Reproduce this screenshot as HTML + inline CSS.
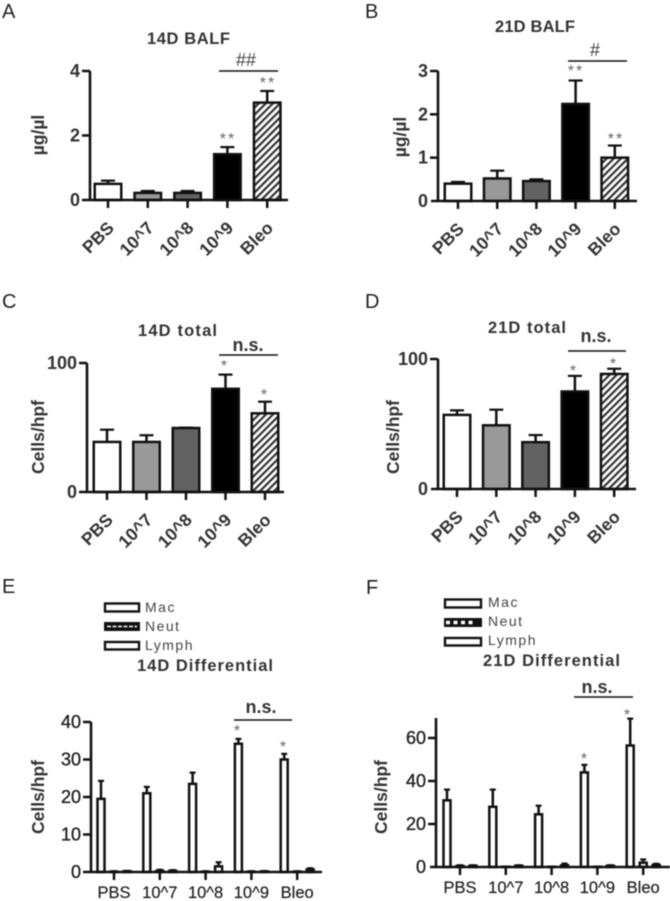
<!DOCTYPE html>
<html lang="en">
<head>
<meta charset="utf-8">
<title>BALF and cell count bar charts</title>
<style>
html,body{margin:0;padding:0;background:#fff;width:670px;height:901px;overflow:hidden}
svg{display:block;filter:blur(0.5px)}
text{font-family:"Liberation Sans",sans-serif;fill:#333}
.letter{font-size:20px;fill:#222}
.title{font-size:16.5px;font-weight:bold;fill:#333}
.ytitle{font-size:17.5px;font-weight:bold;fill:#333}
.sig{font-size:18px;font-weight:bold;fill:#333;text-anchor:middle}
.hash{font-size:18px;fill:#444;text-anchor:middle}
.star{font-size:16px;fill:#666;text-anchor:middle;letter-spacing:2px}
.legend{font-size:14px;fill:#444;letter-spacing:1.5px}
.tick{font-size:18px;font-weight:bold;fill:#333;text-anchor:end}
.tick-light{font-size:18px;fill:#222;stroke:#222;stroke-width:.35;text-anchor:end}
.xrot{font-size:17.5px;font-weight:bold;fill:#333;text-anchor:end}
.xflat{font-size:16.5px;fill:#222;stroke:#222;stroke-width:.2;text-anchor:middle}
.line{stroke:#111;stroke-width:1.6}
</style>
</head>
<body>
<svg id="figure" xmlns="http://www.w3.org/2000/svg" width="670" height="901" viewBox="0 0 670 901">
<defs>
<pattern id="hatch" patternUnits="userSpaceOnUse" width="5" height="5" patternTransform="rotate(45)">
<rect width="5" height="5" fill="#fff"/>
<rect width="2.2" height="5" fill="#333"/>
</pattern>
</defs>
<rect width="670" height="901" fill="#fff"/>

<text class="letter" x="2" y="18">A</text>
<text class="letter" x="365" y="18">B</text>
<text class="letter" x="2" y="308">C</text>
<text class="letter" x="365" y="308">D</text>
<text class="letter" x="2" y="593">E</text>
<text class="letter" x="366" y="594">F</text>

<text class="title" x="147" y="44" textLength="83" lengthAdjust="spacing">14D BALF</text>
<text class="title" x="495" y="32" textLength="80" lengthAdjust="spacing">21D BALF</text>
<text class="title" x="138" y="336" textLength="79" lengthAdjust="spacing">14D total</text>
<text class="title" x="488" y="333" textLength="78" lengthAdjust="spacing">21D total</text>
<text class="title" x="137" y="671" textLength="136" lengthAdjust="spacing">14D Differential</text>
<text class="title" x="483" y="666" textLength="137" lengthAdjust="spacing">21D Differential</text>

<text class="ytitle" transform="translate(44,135) rotate(-90)" text-anchor="middle">µg/µl</text>
<text class="ytitle" transform="translate(406,137) rotate(-90)" text-anchor="middle">µg/µl</text>
<text class="ytitle" transform="translate(44,437) rotate(-90)" text-anchor="middle">Cells/hpf</text>
<text class="ytitle" transform="translate(399,437) rotate(-90)" text-anchor="middle">Cells/hpf</text>
<text class="ytitle" transform="translate(44,797) rotate(-90)" text-anchor="middle">Cells/hpf</text>
<text class="ytitle" transform="translate(387,797) rotate(-90)" text-anchor="middle">Cells/hpf</text>

<!-- significance annotations -->
<line class="line" x1="219" x2="278" y1="71" y2="71"/>
<text class="hash" x="246" y="66">##</text>
<text class="star" x="268" y="88">**</text>
<text class="star" x="228" y="144">**</text>

<line class="line" x1="568" x2="627" y1="61" y2="61"/>
<text class="hash" x="595" y="56">#</text>
<text class="star" x="576" y="76">**</text>
<text class="star" x="616" y="144">**</text>

<line class="line" x1="219" x2="278" y1="355" y2="355"/>
<text class="sig" x="248" y="351">n.s.</text>
<text class="star" x="225" y="371">*</text>
<text class="star" x="265" y="400">*</text>

<line class="line" x1="568" x2="626" y1="351" y2="351"/>
<text class="sig" x="596" y="342">n.s.</text>
<text class="star" x="574" y="376">*</text>
<text class="star" x="614" y="369">*</text>

<line class="line" x1="234" x2="292" y1="720" y2="720"/>
<text class="sig" x="261" y="713">n.s.</text>
<text class="star" x="238" y="736">*</text>
<text class="star" x="284" y="752">*</text>

<line class="line" x1="574" x2="633" y1="697" y2="697"/>
<text class="sig" x="597" y="693">n.s.</text>
<text class="star" x="585" y="764">*</text>
<text class="star" x="628" y="720">*</text>

<!-- legends -->
<g>
<rect x="105" y="603.5" width="34" height="8" fill="#fff" stroke="#111" stroke-width="2.4"/>
<rect x="104" y="622" width="36" height="9" fill="#111"/>
<line x1="107" x2="137" y1="626.5" y2="626.5" stroke="#fff" stroke-width="1.5" stroke-dasharray="4 1.5"/>
<rect x="105" y="642" width="34" height="7.5" fill="#fff" stroke="#111" stroke-width="2.4"/>
<text class="legend" x="145" y="612">Mac</text>
<text class="legend" x="145" y="631">Neut</text>
<text class="legend" x="145" y="650">Lymph</text>
</g>
<g>
<rect x="445" y="599.5" width="36" height="8" fill="#fff" stroke="#111" stroke-width="2.4"/>
<rect x="444" y="618" width="38" height="9" fill="#111"/>
<line x1="446" x2="476" y1="622.5" y2="622.5" stroke="#fff" stroke-width="3.5" stroke-dasharray="4 3.5"/>
<rect x="445" y="638" width="36" height="7.5" fill="#fff" stroke="#111" stroke-width="2.4"/>
<text class="legend" x="488" y="607">Mac</text>
<text class="legend" x="488" y="626">Neut</text>
<text class="legend" x="488" y="645">Lymph</text>
</g>
</svg>

<script>
const categories = ['PBS', '10^7', '10^8', '10^9', 'Bleo'];

const panelATicks = [0, 2, 4];
const panelAValues = [0.5, 0.22, 0.22, 1.42, 3.02];
const panelAErrors = [0.1, 0.06, 0.06, 0.22, 0.36];

const panelBTicks = [0, 1, 2, 3];
const panelBValues = [0.4, 0.52, 0.46, 2.24, 1.0];
const panelBErrors = [0.04, 0.18, 0.04, 0.54, 0.28];

const panelCTicks = [0, 100];
const panelCValues = [38.8, 38.8, 49.6, 80, 61];
const panelCErrors = [9.5, 5.2, 0.3, 11, 9];

const panelDTicks = [0, 100];
const panelDValues = [57, 49, 36, 75, 88.5];
const panelDErrors = [3.5, 12, 5.5, 12, 4];

const panelETicks = [0, 10, 20, 30, 40];
const panelEMac = [19.5, 21, 23.5, 34.2, 30];
const panelEMacErrors = [4.8, 1.7, 3, 1.3, 1.5];
const panelENeut = [0.1, 0.3, 0.1, 0.1, 0.1];
const panelENeutErrors = [0.1, 0.3, 0.1, 0.1, 0.1];
const panelELymph = [0.2, 0.3, 1.5, 0.15, 0.7];
const panelELymphErrors = [0.1, 0.2, 1.1, 0.1, 0.3];

const panelFTicks = [0, 20, 40, 60];
const panelFMac = [31, 28, 24.5, 44, 56.5];
const panelFMacErrors = [5, 8, 4, 3.5, 12.5];
const panelFNeut = [0.5, 0.1, 0.1, 0.1, 2];
const panelFNeutErrors = [0.3, 0.1, 0.1, 0.1, 1.5];
const panelFLymph = [0.6, 0.6, 0.8, 0.6, 1];
const panelFLymphErrors = [0.2, 0.2, 0.8, 0.2, 0.5];

const SVG_NS = 'http://www.w3.org/2000/svg';
const root = document.getElementById('figure');
const INK = '#111';
const singleFills = ['#ffffff', '#999999', '#626262', '#000000', 'url(#hatch)'];

function make(tag, parent, props) {
  const el = document.createElementNS(SVG_NS, tag);
  for (const k in props) el.setAttribute(k, props[k]);
  parent.appendChild(el);
  return el;
}

function drawAxes(g, p, ticks) {
  const yLine = make('line', g, {x1: p.axisX, x2: p.axisX, y1: p.yTop, y2: p.y0, stroke: INK, 'stroke-width': 2.6});
  
  
  const xLine = make('line', g, {x1: p.axisLeft, x2: p.axisRight, y1: p.y0, y2: p.y0, stroke: INK, 'stroke-width': 2.6});
  
  
  ticks.forEach(function (t) {
    const y = p.yScale(t);
    if (t !== 0) {
      const m = make('line', g, {x1: p.axisX - 8, x2: p.axisX, y1: y, y2: y, stroke: INK, 'stroke-width': 2.5});
      
      
    }
    const label = make('text', g, {class: p.flatLabels ? 'tick-light' : 'tick', x: p.axisX - 10, y: y + 6});
    
    
    label.textContent = String(t);
  });
  categories.forEach(function (c, i) {
    const x = p.tickX(i);
    const m = make('line', g, {x1: x, x2: x, y1: p.y0, y2: p.y0 + 8, stroke: INK, 'stroke-width': 2.5});
    
    
    let label;
    if (p.flatLabels) {
      label = make('text', g, {class: 'xflat', x: x, y: p.labelY});
    } else {
      label = make('text', g, {class: 'xrot', transform: 'translate(' + (x + 7) + ',' + (p.y0 + 29) + ') rotate(-45)'});
    }
    
    
    label.textContent = c;
  });
}

function drawBar(g, p, cx, width, value, error, fill) {
  const top = p.yScale(value);
  const errTop = p.yScale(value + error);
  const stem = make('line', g, {x1: cx, x2: cx, y1: top, y2: errTop, stroke: INK, 'stroke-width': 2.5});
  
  
  const cap = make('line', g, {x1: cx - p.capHalf, x2: cx + p.capHalf, y1: errTop, y2: errTop, stroke: INK, 'stroke-width': 2.2});
  
  
  const bar = make('rect', g, {x: cx - width / 2, y: top, width: width, height: Math.max(p.y0 - top, 0), fill: fill, stroke: INK, 'stroke-width': 2.5});
  
  
}

function linearY(p) {
  p.yScale = function (v) { return p.y0 - (v / p.yMax) * (p.y0 - p.yTop); };
}

function drawSinglePanel(name, p, ticks, values, errors) {
  const g = make('g', root, {});
  
  
  linearY(p);
  p.capHalf = 7;
  p.tickX = function (i) { return p.first + i * p.step; };
  values.forEach(function (v, i) {
    drawBar(g, p, p.tickX(i), 26.5, v, errors[i], singleFills[i]);
  });
  drawAxes(g, p, ticks);
}

function drawGroupedPanel(name, p, ticks, mac, macErr, neut, neutErr, lymph, lymphErr) {
  const g = make('g', root, {});
  
  
  linearY(p);
  p.capHalf = 3;
  p.flatLabels = true;
  p.tickX = function (i) { return p.first + i * p.step + p.inner; };
  categories.forEach(function (c, i) {
    const cx = p.first + i * p.step;
    drawBar(g, p, cx, 7, mac[i], macErr[i], '#ffffff');
    drawBar(g, p, cx + p.inner, 7, neut[i], neutErr[i], '#ffffff');
    drawBar(g, p, cx + p.inner * 2, 7, lymph[i], lymphErr[i], '#ffffff');
  });
  drawAxes(g, p, ticks);
}

drawSinglePanel('panel-a-chart', {axisX: 90, axisLeft: 82, axisRight: 288, y0: 200, yTop: 71, yMax: 4, first: 108, step: 39.8}, panelATicks, panelAValues, panelAErrors);
drawSinglePanel('panel-b-chart', {axisX: 438, axisLeft: 431, axisRight: 637, y0: 201, yTop: 71, yMax: 3, first: 458, step: 39.2}, panelBTicks, panelBValues, panelBErrors);
drawSinglePanel('panel-c-chart', {axisX: 87, axisLeft: 79, axisRight: 284, y0: 492, yTop: 363, yMax: 100, first: 107, step: 39.5}, panelCTicks, panelCValues, panelCErrors);
drawSinglePanel('panel-d-chart', {axisX: 438, axisLeft: 431, axisRight: 636, y0: 489, yTop: 359, yMax: 100, first: 457, step: 39.3}, panelDTicks, panelDValues, panelDErrors);
drawGroupedPanel('panel-e-chart', {axisX: 91, axisLeft: 83, axisRight: 322, y0: 872, yTop: 722, yMax: 40, first: 101, step: 45.8, inner: 13, labelY: 898}, panelETicks, panelEMac, panelEMacErrors, panelENeut, panelENeutErrors, panelELymph, panelELymphErrors);
drawGroupedPanel('panel-f-chart', {axisX: 436, axisLeft: 430, axisRight: 670, y0: 867, yTop: 718, yMax: 69.3, first: 447, step: 45.8, inner: 13, labelY: 893}, panelFTicks, panelFMac, panelFMacErrors, panelFNeut, panelFNeutErrors, panelFLymph, panelFLymphErrors);
</script>
</body>
</html>
